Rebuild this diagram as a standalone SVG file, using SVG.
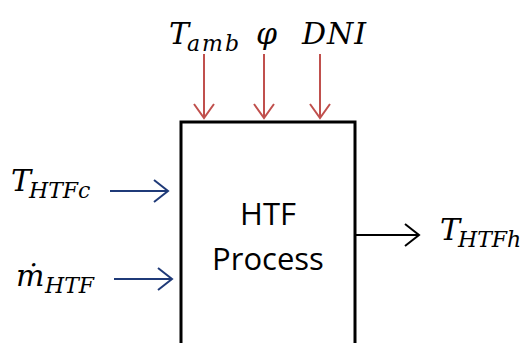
<svg xmlns="http://www.w3.org/2000/svg" width="525" height="343" viewBox="0 0 525 343">
<style>
.m{font-family:"DejaVu Serif","Liberation Serif",serif;font-style:italic;font-size:30px;fill:#000}
.s{font-family:"DejaVu Serif","Liberation Serif",serif;font-style:italic;font-size:22px;fill:#000}
.lbl{font-family:"Open Sans","Liberation Sans",sans-serif;font-size:31px;fill:#000;text-anchor:middle}
.red{stroke:#C0504D;stroke-width:2;fill:none}
.blue{stroke:#1F3A78;stroke-width:2;fill:none}
.blk{stroke:#000;stroke-width:2;fill:none}
</style>
<rect width="525" height="343" fill="#fff"/>
<g id="process">
<rect x="181" y="122" width="174" height="240" fill="#fff" stroke="#000" stroke-width="3"/>
<text class="lbl" x="268" y="225">HTF</text>
<text class="lbl" x="268" y="270">Process</text>
</g>
<g id="inputs-top">
<text class="m" x="169" y="44">T</text><text class="s" x="187" y="51" letter-spacing="2">amb</text>
<text class="m" x="256" y="44">φ</text>
<text class="m" x="302" y="44" letter-spacing="1">DNI</text>
</g>
<g id="inputs-left">
<text class="m" x="11" y="191">T</text><text class="s" x="29" y="198">HTFc</text>
<text class="m" x="16" y="286">ṁ</text><text class="s" x="45" y="293">HTF</text>
</g>
<g id="output">
<text class="m" x="440" y="240">T</text><text class="s" x="458" y="247">HTFh</text>
</g>
<g id="connectors">
<path class="red" d="M204 54V118M194 104L204 118L214 104"/>
<path class="red" d="M264 54V118M254 104L264 118L274 104"/>
<path class="red" d="M320 54V118M310 104L320 118L330 104"/>
<path class="blue" d="M110 191H168M154 180L168 191L154 202"/>
<path class="blue" d="M114 279H172M158 268L172 279L158 290"/>
<path class="blk" d="M356 235H419M405 224L419 235L405 246"/>
</g>
</svg>
